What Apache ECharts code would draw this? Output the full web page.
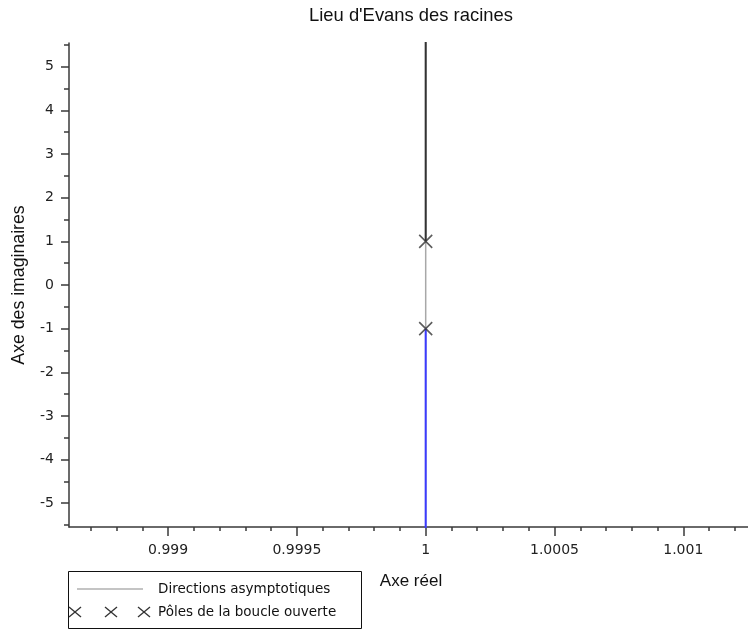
<!DOCTYPE html>
<html>
<head>
<meta charset="utf-8">
<title>Lieu d'Evans des racines</title>
<script src="https://cdn.jsdelivr.net/npm/echarts@6/dist/echarts.min.js"></script>
<style>
  html, body { margin: 0; padding: 0; background: #fff; }
  #chart { width: 748px; height: 631px; }
</style>
</head>
<body>
<div id="chart"></div>
<script>
// Open-loop poles (real, imaginary)
const poleRe = [1, 1];
const poleIm = [1, -1];

// Root-locus branches leaving each pole (imaginary part along Re = 1)
const branchUpRe = [1, 1];
const branchUpIm = [1, 5.6];
const branchDownRe = [1, 1];
const branchDownIm = [-1, -5.6];

// Asymptote through the centroid, vertical
const asymRe = [1, 1];
const asymIm = [-5.6, 5.6];

// Axis ticks
const xTickLabels = [0.999, 0.9995, 1, 1.0005, 1.001];
const xMinorStep = 0.0001;
const yTickLabels = [-5, -4, -3, -2, -1, 0, 1, 2, 3, 4, 5];
const yMinorStep = 0.5;

const xMin = 0.9986153, xMax = 1.0012512;
const yMin = -5.545, yMax = 5.545;

function zipPts(xs, ys) { return xs.map((x, i) => [x, ys[i]]); }

const xMinor = [];
for (let k = Math.ceil(xMin / xMinorStep); k * xMinorStep <= xMax; k++) {
  const v = +(k * xMinorStep).toFixed(5);
  if (!xTickLabels.some(t => Math.abs(t - v) < 1e-9)) xMinor.push(v);
}
const yMinor = [];
for (let k = Math.ceil(yMin / yMinorStep); k * yMinorStep <= yMax; k++) {
  const v = k * yMinorStep;
  if (!yTickLabels.includes(v)) yMinor.push(v);
}

const axisColor = '#3a3a3a';
const tickFont = { fontFamily: 'DejaVu Sans', fontSize: 14, color: '#222' };
const crossPath = 'path://M0,0L10,10M10,0L0,10';

const chart = echarts.init(document.getElementById('chart'), null, { renderer: 'canvas' });

// Legend marker: small X drawn with two strokes
function legendCross(cx, cy) {
  const st = { stroke: '#333', lineWidth: 1.3 };
  return [
    { type: 'line', z: 11, shape: { x1: cx - 6, y1: cy - 5, x2: cx + 6, y2: cy + 5 }, style: st },
    { type: 'line', z: 11, shape: { x1: cx - 6, y1: cy + 5, x2: cx + 6, y2: cy - 5 }, style: st }
  ];
}

chart.setOption({
  animation: false,
  backgroundColor: '#fff',
  title: {
    text: "Lieu d'Evans des racines",
    left: 309,
    top: 7,
    padding: 0,
    textStyle: { fontFamily: 'Liberation Sans', fontSize: 18.4, fontWeight: 'normal', color: '#111' }
  },
  grid: { left: 69, top: 43, right: 0, bottom: 104, containLabel: false, outerBoundsMode: 'none' },
  xAxis: [
    {
      type: 'value', min: xMin, max: xMax, position: 'bottom',
      splitLine: { show: false },
      axisLine: { show: true, onZero: false, lineStyle: { color: axisColor, width: 1.5 } },
      axisTick: { show: true, length: 9, customValues: xTickLabels, lineStyle: { color: axisColor, width: 1.5 } },
      axisLabel: { show: true, margin: 16, customValues: xTickLabels, formatter: v => String(v), ...tickFont }
    },
    {
      type: 'value', min: xMin, max: xMax, position: 'bottom', offset: 0,
      splitLine: { show: false },
      axisLine: { show: false, onZero: false },
      axisTick: { show: true, length: 4, customValues: xMinor, lineStyle: { color: axisColor, width: 1.5 } },
      axisLabel: { show: false }
    }
  ],
  yAxis: [
    {
      type: 'value', min: yMin, max: yMax, position: 'left',
      splitLine: { show: false },
      axisLine: { show: true, onZero: false, lineStyle: { color: axisColor, width: 1.5 } },
      axisTick: { show: true, length: 8, customValues: yTickLabels, lineStyle: { color: axisColor, width: 1.5 } },
      axisLabel: { show: true, margin: 15, customValues: yTickLabels, formatter: v => String(v), ...tickFont }
    },
    {
      type: 'value', min: yMin, max: yMax, position: 'left', offset: 0,
      splitLine: { show: false },
      axisLine: { show: false, onZero: false },
      axisTick: { show: true, length: 5, customValues: yMinor, lineStyle: { color: axisColor, width: 1.5 } },
      axisLabel: { show: false }
    }
  ],
  series: [
    {
      name: 'Directions asymptotiques', type: 'line', xAxisIndex: 0, yAxisIndex: 0,
      data: zipPts(asymRe, asymIm), showSymbol: false, clip: true, z: 1,
      lineStyle: { color: '#a8a8a8', width: 1.5 }
    },
    {
      name: 'branche 1', type: 'line', xAxisIndex: 0, yAxisIndex: 0,
      data: zipPts(branchUpRe, branchUpIm), showSymbol: false, clip: true, z: 2,
      lineStyle: { color: '#333333', width: 2 }
    },
    {
      name: 'branche 2', type: 'line', xAxisIndex: 0, yAxisIndex: 0,
      data: zipPts(branchDownRe, branchDownIm), showSymbol: false, clip: true, z: 2,
      lineStyle: { color: '#3a3aff', width: 2 }
    },
    {
      name: 'Pôles de la boucle ouverte', type: 'scatter', xAxisIndex: 0, yAxisIndex: 0,
      data: zipPts(poleRe, poleIm), symbol: crossPath, symbolSize: 13, z: 3,
      itemStyle: { color: 'none', borderColor: '#333', borderWidth: 1.6 }
    }
  ],
  graphic: [
    {
      type: 'text', x: 411, y: 581,
      style: { text: 'Axe réel', fontFamily: 'Liberation Sans', fontSize: 17, fill: '#111', align: 'center', verticalAlign: 'middle' }
    },
    {
      type: 'text', x: 19, y: 285, rotation: Math.PI / 2,
      style: { text: 'Axe des imaginaires', fontFamily: 'Liberation Sans', fontSize: 17.7, fill: '#111', align: 'center', verticalAlign: 'middle' }
    },
    {
      type: 'rect', shape: { x: 68.5, y: 571.5, width: 293, height: 57 },
      style: { fill: '#fff', stroke: '#111', lineWidth: 1 }, z: 10
    },
    {
      type: 'line', shape: { x1: 77, y1: 589, x2: 143, y2: 589 },
      style: { stroke: '#8a8a8a', lineWidth: 1.2 }, z: 11
    },
    {
      type: 'text', x: 158, y: 589, z: 11,
      style: { text: 'Directions asymptotiques', fontFamily: 'DejaVu Sans', fontSize: 13.5, fill: '#111', align: 'left', verticalAlign: 'middle' }
    },
    ...legendCross(75, 612),
    ...legendCross(111, 612),
    ...legendCross(144, 612),
    {
      type: 'text', x: 158, y: 612, z: 11,
      style: { text: 'Pôles de la boucle ouverte', fontFamily: 'DejaVu Sans', fontSize: 13.5, fill: '#111', align: 'left', verticalAlign: 'middle' }
    }
  ]
});
</script>
</body>
</html>
